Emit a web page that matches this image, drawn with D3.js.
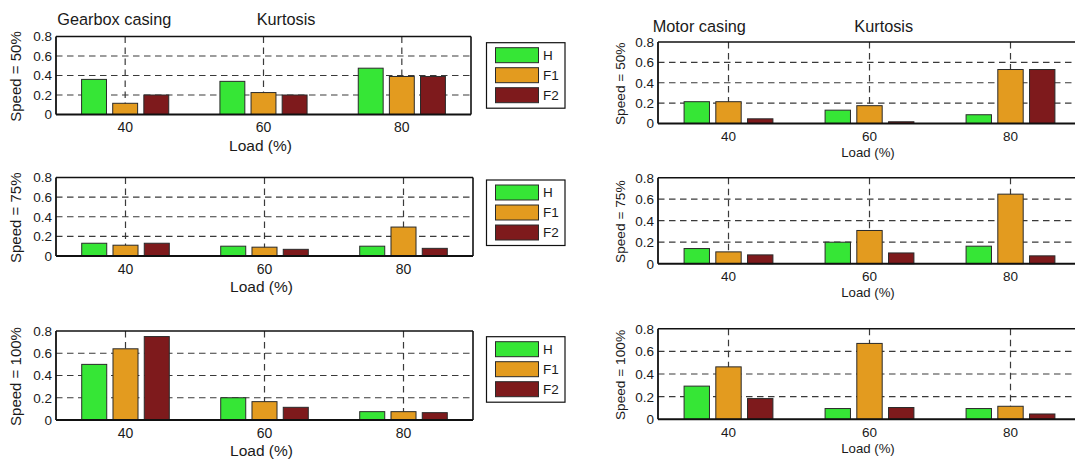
<!DOCTYPE html>
<html>
<head>
<meta charset="utf-8">
<script src="https://cdn.jsdelivr.net/npm/d3@7"></script>
<style>
  html, body { margin: 0; padding: 0; background: #fff; }
  svg { display: block; font-family: "Liberation Sans", Arial, sans-serif; }
</style>
</head>
<body>
<svg id="chart" width="1075" height="461"></svg>
<script>
// Kurtosis of vibration signals per load, one row per load: [H, F1, F2]
const loads = [40, 60, 80];
const seriesNames = ["H", "F1", "F2"];
const seriesColors = ["#36e636", "#e39b1f", "#7e1a1c"];
const yTicks = [0, 0.2, 0.4, 0.6, 0.8];
const yTickLabels = ["0", "0.2", "0.4", "0.6", "0.8"];

const gearbox50  = [[0.36, 0.115, 0.20], [0.34, 0.225, 0.20], [0.475, 0.39, 0.39]];
const gearbox75  = [[0.13, 0.11, 0.13], [0.10, 0.09, 0.068], [0.10, 0.295, 0.078]];
const gearbox100 = [[0.50, 0.64, 0.75], [0.20, 0.165, 0.114], [0.075, 0.075, 0.066]];

const motor50  = [[0.214, 0.214, 0.046], [0.131, 0.175, 0.017], [0.086, 0.53, 0.53]];
const motor75  = [[0.141, 0.11, 0.082], [0.20, 0.309, 0.10], [0.163, 0.647, 0.073]];
const motor100 = [[0.293, 0.463, 0.183], [0.095, 0.67, 0.104], [0.095, 0.115, 0.047]];

const svg = d3.select("#chart");

// panel frames: x0/x1 plot edges, top/bottom y, side-specific font sizes
const panels = [
  { data: gearbox50,  speed: "50%",  x0: 56,  x1: 471,  top: 36.5,  bottom: 114.5, side: "L", legend: 42.7 },
  { data: gearbox75,  speed: "75%",  x0: 56,  x1: 473,  top: 177.5, bottom: 256,   side: "L", legend: 180 },
  { data: gearbox100, speed: "100%", x0: 56,  x1: 473,  top: 331,   bottom: 420,   side: "L", legend: 336.7 },
  { data: motor50,  speed: "50%",  x0: 658, x1: 1081, top: 42,    bottom: 123.5, side: "R" },
  { data: motor75,  speed: "75%",  x0: 658, x1: 1081, top: 177.7, bottom: 263.7, side: "R" },
  { data: motor100, speed: "100%", x0: 658, x1: 1081, top: 328.7, bottom: 419.3, side: "R" }
];

const barOffset = 4.5;  // load units between neighbouring bars of a group
const barWidth = 3.6;   // load units

panels.forEach(p => {
  const x = d3.scaleLinear().domain([30, 90]).range([p.x0, p.x1]);
  const y = d3.scaleLinear().domain([0, 0.8]).range([p.bottom, p.top]);
  const g = svg.append("g");
  const left = p.side === "L";

  // dashed grid
  g.selectAll("line.hgrid").data(yTicks.filter(v => v > 0 && v < 0.8)).join("line")
    .attr("x1", p.x0).attr("x2", p.x1)
    .attr("y1", d => y(d)).attr("y2", d => y(d))
    .attr("stroke", "#3a3a3a").attr("stroke-width", 1.2).attr("stroke-dasharray", "6.5,4.5");
  g.selectAll("line.vgrid").data(loads).join("line")
    .attr("x1", d => x(d)).attr("x2", d => x(d))
    .attr("y1", p.top).attr("y2", p.bottom)
    .attr("stroke", "#3a3a3a").attr("stroke-width", 1.2).attr("stroke-dasharray", "6.5,4.5");

  // bars
  loads.forEach((ld, i) => {
    seriesNames.forEach((s, j) => {
      const cx = ld + (j - 1) * barOffset;
      const v = p.data[i][j];
      g.append("rect")
        .attr("x", x(cx - barWidth / 2))
        .attr("width", x(cx + barWidth / 2) - x(cx - barWidth / 2))
        .attr("y", y(v))
        .attr("height", y(0) - y(v))
        .attr("fill", seriesColors[j])
        .attr("stroke", "#2a2a2a").attr("stroke-width", 1);
    });
  });

  // axes frame
  const frame = g.append("g").attr("fill", "none").attr("stroke", "#111");
  frame.append("line").attr("x1", p.x0).attr("x2", p.x1).attr("y1", p.top).attr("y2", p.top).attr("stroke-width", 1.6);
  frame.append("line").attr("x1", p.x0).attr("x2", p.x1).attr("y1", p.bottom).attr("y2", p.bottom).attr("stroke-width", 2);
  frame.append("line").attr("x1", p.x0).attr("x2", p.x0).attr("y1", p.top).attr("y2", p.bottom).attr("stroke-width", 1.8);
  frame.append("line").attr("x1", p.x1).attr("x2", p.x1).attr("y1", p.top).attr("y2", p.bottom).attr("stroke-width", 1.6);

  // y tick labels
  g.selectAll("text.ytick").data(yTicks).join("text")
    .attr("x", p.x0 - 4).attr("y", d => y(d))
    .attr("dy", "0.36em").attr("text-anchor", "end")
    .attr("font-size", 13.5).attr("fill", "#1a1a1a")
    .text((d, i) => yTickLabels[i]);

  // x tick labels
  g.selectAll("text.xtick").data(loads).join("text")
    .attr("x", d => x(d)).attr("y", p.bottom + 17.5)
    .attr("text-anchor", "middle")
    .attr("font-size", left ? 14 : 13.5).attr("fill", "#1a1a1a")
    .text(d => d);

  // axis titles
  g.append("text")
    .attr("x", (x(30) + x(90)) / 2 + (left ? -3 : -1.5))
    .attr("y", p.bottom + (left ? 36.3 : 33.5))
    .attr("text-anchor", "middle")
    .attr("font-size", left ? 15.5 : 13.2).attr("fill", "#1a1a1a")
    .text("Load (%)");

  g.append("text")
    .attr("transform", `translate(${left ? 16 : 620.3},${(p.top + p.bottom) / 2 + 1}) rotate(-90)`)
    .attr("text-anchor", "middle").attr("dy", "0.35em")
    .attr("font-size", left ? 15 : 13.7).attr("fill", "#1a1a1a")
    .text("Speed = " + p.speed);

  // legend
  if (p.legend !== undefined) {
    const lx = left ? 486.5 : 0, ly = p.legend;
    const lg = svg.append("g").attr("transform", `translate(${lx},${ly})`);
    lg.append("rect").attr("x", 0).attr("y", 0).attr("width", 78.5).attr("height", 65.5)
      .attr("fill", "#fff").attr("stroke", "#111").attr("stroke-width", 1.2);
    seriesNames.forEach((s, j) => {
      lg.append("rect").attr("x", 9).attr("y", 5 + j * 20).attr("width", 43).attr("height", 15)
        .attr("fill", seriesColors[j]).attr("stroke", "#2a2a2a").attr("stroke-width", 1);
      lg.append("text").attr("x", 56.5).attr("y", 12.5 + j * 20).attr("dy", "0.36em")
        .attr("font-size", 13.5).attr("fill", "#1a1a1a").text(s);
    });
  }
});

// panel titles
const titles = [
  { text: "Gearbox casing", x: 57.3, y: 25 },
  { text: "Kurtosis", x: 256.7, y: 25 },
  { text: "Motor casing", x: 652.7, y: 32.3 },
  { text: "Kurtosis", x: 854.3, y: 32.3 }
];
svg.selectAll("text.title").data(titles).join("text")
  .attr("x", d => d.x).attr("y", d => d.y)
  .attr("font-size", 16.3).attr("fill", "#1a1a1a")
  .text(d => d.text);
</script>
</body>
</html>
